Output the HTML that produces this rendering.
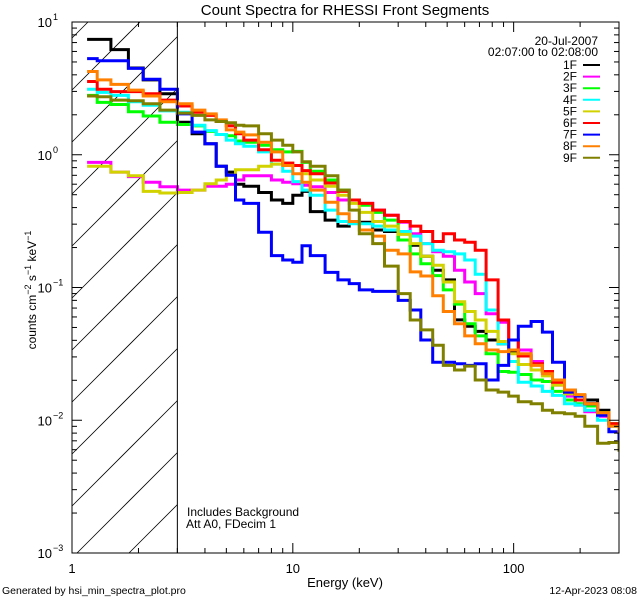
<!DOCTYPE html>
<html><head><meta charset="utf-8"><style>
html,body{margin:0;padding:0;background:#fff;width:640px;height:600px;overflow:hidden;}
svg{display:block;}
svg text{font-family:"Liberation Sans",sans-serif;fill:#000;}
</style></head><body>
<svg id="chart" width="640" height="600" viewBox="0 0 640 600" xmlns="http://www.w3.org/2000/svg">
<rect width="640" height="600" fill="#fff"/>
<text x="345" y="15" font-size="15" text-anchor="middle">Count Spectra for RHESSI Front Segments</text>
<g id="hatch"></g>
<g id="series"></g>
<g id="axes"></g>
<text x="345" y="587" font-size="13" text-anchor="middle">Energy (keV)</text>
<text transform="translate(36,290) rotate(-90)" font-size="12" text-anchor="middle">counts cm<tspan font-size="9" dy="-5">−2</tspan><tspan dy="5"> s</tspan><tspan font-size="9" dy="-5">−1</tspan><tspan dy="5"> keV</tspan><tspan font-size="9" dy="-5">−1</tspan></text>
<text x="187" y="516" font-size="12">Includes Background</text>
<text x="186" y="528" font-size="12">Att A0, FDecim 1</text>
<text x="2" y="594" font-size="10.5">Generated by hsi_min_spectra_plot.pro</text>
<text x="637" y="594" font-size="10.5" text-anchor="end">12-Apr-2023 08:08</text>
<text x="598" y="45" font-size="12" text-anchor="end">20-Jul-2007</text>
<text x="598" y="56" font-size="12" text-anchor="end">02:07:00 to 02:08:00</text>
<g id="legend"></g>
</svg>
<script>
const energies=[1.17,1.3,1.5,1.8,2.1,2.5,3,3.5,4,4.5,5,5.5,6,7,8,9,10,11,12,14,16,18,20,23,26,30,34,38,43,48,54,60,67,75,85,95,105,120,135,150,170,190,210,240,270,300];
const s1F=[7.4,7.4,6.2,4.5,3.66,2.88,1.76,1.44,1.21,0.82,0.74,0.60,0.58,0.52,0.456,0.43,0.495,0.53,0.373,0.322,0.29,0.31,0.31,0.271,0.264,0.228,0.208,0.172,0.135,0.114,0.057,0.051,0.0467,0.0402,0.0377,0.0329,0.0309,0.0266,0.0233,0.0201,0.0169,0.0154,0.0142,0.0119,0.0094,0.0085];
const s2F=[0.875,0.875,0.74,0.685,0.62,0.574,0.542,0.542,0.58,0.58,0.60,0.645,0.695,0.695,0.645,0.62,0.604,0.589,0.574,0.52,0.456,0.456,0.43,0.383,0.35,0.31,0.254,0.214,0.186,0.172,0.135,0.110,0.090,0.0634,0.0547,0.0402,0.0338,0.0277,0.0233,0.0184,0.0152,0.0130,0.0116,0.0107,0.0093,0.0085];
const s3F=[2.80,2.48,2.39,2.11,1.96,1.76,1.69,1.65,1.50,1.42,1.39,1.27,1.24,1.18,1.09,1.05,1.06,0.875,0.75,0.645,0.542,0.456,0.416,0.368,0.322,0.228,0.179,0.151,0.123,0.096,0.075,0.0533,0.0432,0.0317,0.0233,0.0230,0.0221,0.0201,0.0196,0.0165,0.0142,0.0133,0.0128,0.0114,0.0094,0.0083];
const s4F=[3.11,2.95,2.80,2.51,2.36,2.14,2.09,1.67,1.52,1.42,1.29,1.21,1.16,1.05,0.85,0.75,0.628,0.542,0.495,0.383,0.314,0.302,0.302,0.290,0.271,0.264,0.244,0.214,0.191,0.186,0.179,0.161,0.126,0.0677,0.0377,0.0277,0.0193,0.0181,0.0165,0.0154,0.0133,0.0130,0.0119,0.0100,0.0090,0.0083];
const s5F=[0.82,0.82,0.74,0.695,0.53,0.515,0.52,0.542,0.604,0.645,0.70,0.77,0.77,0.82,0.85,0.865,0.83,0.72,0.645,0.58,0.495,0.43,0.368,0.314,0.29,0.251,0.214,0.172,0.147,0.110,0.078,0.0659,0.0569,0.0467,0.0392,0.0317,0.0263,0.0239,0.0216,0.0184,0.0158,0.0142,0.0133,0.0114,0.0094,0.0085];
const s6F=[3.56,3.11,2.99,2.99,2.88,2.58,2.33,2.09,1.98,1.78,1.65,1.44,1.29,1.09,0.91,0.865,0.83,0.76,0.72,0.613,0.53,0.456,0.43,0.383,0.35,0.314,0.29,0.264,0.222,0.254,0.228,0.219,0.191,0.114,0.0569,0.0402,0.0305,0.0266,0.0233,0.0193,0.0163,0.0142,0.0133,0.0112,0.0094,0.0085];
const s7F=[5.3,5.1,5.1,4.47,3.7,3.11,2.03,1.48,1.21,0.82,0.70,0.456,0.43,0.261,0.174,0.161,0.155,0.206,0.174,0.130,0.114,0.107,0.096,0.0935,0.0935,0.080,0.0677,0.0402,0.0273,0.0273,0.0266,0.0259,0.0266,0.0201,0.0259,0.0402,0.051,0.0554,0.0461,0.0273,0.0163,0.0152,0.0133,0.0109,0.0082,0.0071];
const s8F=[4.24,3.66,3.39,3.07,2.77,2.51,2.42,2.17,2.03,1.83,1.54,1.48,1.41,1.24,1.05,0.83,0.72,0.62,0.542,0.439,0.359,0.314,0.271,0.244,0.191,0.179,0.131,0.122,0.0866,0.0659,0.0533,0.0432,0.0377,0.0338,0.0329,0.0338,0.0317,0.0259,0.0224,0.0201,0.0169,0.0156,0.0133,0.0114,0.0090,0.0080];
const s9F=[2.77,2.73,2.58,2.55,2.42,2.17,2.06,1.98,1.83,1.78,1.74,1.67,1.65,1.44,1.29,1.18,1.05,0.886,0.82,0.695,0.542,0.383,0.254,0.214,0.145,0.090,0.0569,0.0479,0.0367,0.0259,0.0239,0.0256,0.0201,0.0169,0.0163,0.0152,0.0138,0.0133,0.0119,0.0114,0.0112,0.0107,0.0090,0.0067,0.0068,0.0058];
const seriesNames=["1F","2F","3F","4F","5F","6F","7F","8F","9F"];
const seriesColors=["#000000","#ff00ff","#00ff00","#00ffff","#d2d200","#ff0000","#0000ff","#ff8000","#808000"];
const seriesData=[s1F,s2F,s3F,s4F,s5F,s6F,s7F,s8F,s9F];
const xTickLabels=["1","10","100"];
const yTickExps=["1","0","−1","−2","−3"];

const NS="http://www.w3.org/2000/svg";
const L=72,R=619,T=22,B=553;
const xMin=1,xMax=300,yMin=-3,yMax=1;
function xs(e){return L+(Math.log10(e)-Math.log10(xMin))/(Math.log10(xMax)-Math.log10(xMin))*(R-L);}
function ys(v){return B-(Math.log10(v)-yMin)/(yMax-yMin)*(B-T);}
function mk(tag,attrs,parent){const el=document.createElementNS(NS,tag);for(const k in attrs)el.setAttribute(k,attrs[k]);parent.appendChild(el);return el;}

const hatch=document.getElementById('hatch');
const cut=xs(3);
for(let c=90-52*3;c<B+(cut-L)+52;c+=52){
  // line: y = c - (x - L), clipped to [L,cut] x [T,B]
  let xa=L,xb=cut;
  xa=Math.max(xa,L+(c-B));
  xb=Math.min(xb,L+(c-T));
  if(xb<=xa)continue;
  const ln=mk('line',{x1:xa,y1:c-(xa-L),x2:xb,y2:c-(xb-L),stroke:'#000','stroke-width':0.8},hatch);
  
  
}
const cl=mk('line',{x1:cut,y1:T,x2:cut,y2:B,stroke:'#000','stroke-width':1},hatch.parentNode);



const sg=document.getElementById('series');
const clip2=mk('clipPath',{id:'pc'},document.getElementById('chart'));
mk('rect',{x:L,y:T,width:R-L,height:B-T},clip2);
sg.setAttribute('clip-path','url(#pc)');
seriesData.forEach((vals,si)=>{
  let d='';
  for(let i=0;i<vals.length;i++){
    const x0=xs(energies[i]);
    const x1=i+1<energies.length?xs(energies[i+1]):R;
    const y=ys(vals[i]);
    d+=(i===0?'M':'L')+x0.toFixed(1)+','+y.toFixed(1)+'L'+x1.toFixed(1)+','+y.toFixed(1);
  }
  const p=mk('path',{d:d,fill:'none',stroke:seriesColors[si],'stroke-width':3,'stroke-linejoin':'miter'},sg);
  
  
});

const ax=document.getElementById('axes');
const frame=mk('rect',{x:L,y:T,width:R-L,height:B-T,fill:'none',stroke:'#000','stroke-width':1},ax);


for(let dec=0;dec<3;dec++){
  for(let m=1;m<10;m++){
    const e=Math.pow(10,dec)*m;
    if(e>xMax)break;
    const x=xs(e),len=m===1?10:5;
    mk('line',{x1:x,y1:B,x2:x,y2:B-len,stroke:'#000'},ax);
    mk('line',{x1:x,y1:T,x2:x,y2:T+len,stroke:'#000'},ax);
  }
}
xTickLabels.forEach((t,i)=>{
  const tx=mk('text',{x:xs(Math.pow(10,i)),y:573,'font-size':13,'text-anchor':'middle'},ax);
  tx.textContent=t;
  
  
});
for(let dec=-3;dec<1;dec++){
  for(let m=1;m<10;m++){
    const v=Math.pow(10,dec)*m;
    const y=ys(v),len=m===1?10:5;
    mk('line',{x1:L,y1:y,x2:L+len,y2:y,stroke:'#000'},ax);
    mk('line',{x1:R,y1:y,x2:R-len,y2:y,stroke:'#000'},ax);
  }
}
mk('line',{x1:L,y1:T,x2:L+10,y2:T,stroke:'#000'},ax);
yTickExps.forEach((t,i)=>{
  const y=ys(Math.pow(10,1-i));
  const tx=mk('text',{x:52,y:y+5,'font-size':13,'text-anchor':'end'},ax);
  tx.textContent='10';
  
  
  const sup=mk('text',{x:53,y:y-2,'font-size':9},ax);
  sup.textContent=t;
  
  
});

const lg=document.getElementById('legend');
seriesNames.forEach((n,i)=>{
  const y=65+i*11.6;
  const t=mk('text',{x:577,y:y+4,'font-size':12,'text-anchor':'end'},lg);
  t.textContent=n;
  
  
  const l=mk('line',{x1:583,y1:y,x2:600,y2:y,stroke:seriesColors[i],'stroke-width':2},lg);
  
  
});
</script>
</body></html>
